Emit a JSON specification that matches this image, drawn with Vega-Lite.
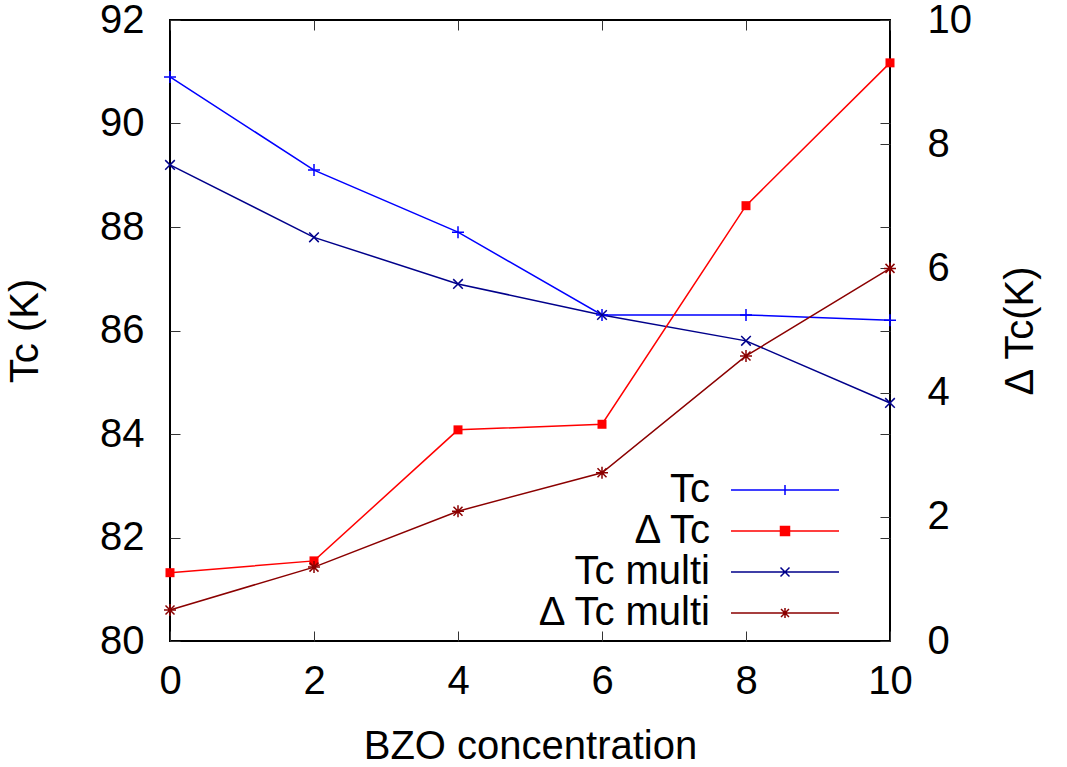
{
  "$schema": "https://vega.github.io/schema/vega-lite/v6.json",
  "width": 720,
  "height": 621,
  "autosize": {"type": "none"},
  "padding": {"left": 170, "top": 20, "right": 177, "bottom": 126},
  "background": "white",
  "config": {
    "font": "Liberation Sans",
    "view": {"stroke": "#000", "strokeWidth": 2},
    "axis": {
      "grid": false, "domain": false, "tickSize": -10, "tickColor": "#333", "tickWidth": 1,
      "labelFontSize": 40, "titleFontSize": 40, "labelFont": "Liberation Sans", "titleFont": "Liberation Sans",
      "labelColor": "#000", "titleColor": "#000", "titleFontWeight": "normal",
      "labelFlush": false, "labelOverlap": false
    }
  },
  "data": {"values": [
    {"x": 0, "series": "Tc", "value": 90.9},
    {"x": 2, "series": "Tc", "value": 89.1},
    {"x": 4, "series": "Tc", "value": 87.9},
    {"x": 6, "series": "Tc", "value": 86.3},
    {"x": 8, "series": "Tc", "value": 86.3},
    {"x": 10, "series": "Tc", "value": 86.2},
    {"x": 0, "series": "Δ Tc", "value": 1.1},
    {"x": 2, "series": "Δ Tc", "value": 1.29},
    {"x": 4, "series": "Δ Tc", "value": 3.4},
    {"x": 6, "series": "Δ Tc", "value": 3.49},
    {"x": 8, "series": "Δ Tc", "value": 7.01},
    {"x": 10, "series": "Δ Tc", "value": 9.31},
    {"x": 0, "series": "Tc multi", "value": 89.2},
    {"x": 2, "series": "Tc multi", "value": 87.8},
    {"x": 4, "series": "Tc multi", "value": 86.9},
    {"x": 6, "series": "Tc multi", "value": 86.3},
    {"x": 8, "series": "Tc multi", "value": 85.8},
    {"x": 10, "series": "Tc multi", "value": 84.6},
    {"x": 0, "series": "Δ Tc multi", "value": 0.5},
    {"x": 2, "series": "Δ Tc multi", "value": 1.19},
    {"x": 4, "series": "Δ Tc multi", "value": 2.09},
    {"x": 6, "series": "Δ Tc multi", "value": 2.71},
    {"x": 8, "series": "Δ Tc multi", "value": 4.59},
    {"x": 10, "series": "Δ Tc multi", "value": 6.0}
  ]},
  "layer": [
    {
      "transform": [{"filter": "datum.series === 'Tc' || datum.series === 'Tc multi'"}],
      "encoding": {
        "x": {"field": "x", "type": "quantitative", "scale": {"domain": [0, 10], "nice": false, "zero": false},
              "axis": {"values": [0, 2, 4, 6, 8, 10], "title": "BZO concentration", "labelPadding": 30, "titlePadding": 25}}
      },
      "layer": [
        {
          "mark": {"type": "line", "strokeWidth": 1.5},
          "encoding": {
            "y": {"field": "value", "type": "quantitative", "scale": {"domain": [80, 92], "nice": false, "zero": false},
                  "axis": {"orient": "left", "values": [80, 82, 84, 86, 88, 90, 92], "title": "Tc (K)", "labelPadding": 36, "titlePadding": 54}},
            "color": {"field": "series", "type": "nominal",
              "scale": {"domain": ["Tc", "Δ Tc", "Tc multi", "Δ Tc multi"], "range": ["#0000ff", "#ff0000", "#00008b", "#8b0000"]},
              "legend": {
                "orient": "none", "legendX": 595, "legendY": 450, "title": null,
                "labelFontSize": 40, "labelFont": "Liberation Sans", "labelColor": "#000",
                "labelAlign": "right", "labelOffset": -95, "labelLimit": 500,
                "symbolSize": 100, "symbolStrokeWidth": 1.5, "rowPadding": 1, "padding": 0,
                "encode": {"symbols": {"update": {
                  "shape": {"signal": "datum.value === 'Tc' ? 'M-10.8,0L10.8,0M0,-1L0,1' : datum.value === 'Δ Tc' ? 'M-10.8,0L10.8,0M-0.9,-0.9L0.9,-0.9L0.9,0.9L-0.9,0.9Z' : datum.value === 'Tc multi' ? 'M-10.8,0L10.8,0M-0.9,-0.9L0.9,0.9M-0.9,0.9L0.9,-0.9' : 'M-10.8,0L10.8,0M-1,0L1,0M0,-1L0,1M-0.8,-0.8L0.8,0.8M-0.8,0.8L0.8,-0.8'"},
                  "fill": {"signal": "datum.value === 'Δ Tc' ? '#ff0000' : 'transparent'"},
                  "strokeWidth": {"value": 1.5}
                }}}
              }}
          }
        },
        {
          "transform": [{"filter": "datum.series === 'Tc'"}],
          "mark": {"type": "point", "strokeWidth": 1.5, "size": 144, "opacity": 1, "filled": false, "color": "#0000ff", "shape": "M-1,0L1,0M0,-1L0,1"},
          "encoding": {
            "y": {"field": "value", "type": "quantitative", "scale": {"domain": [80, 92], "nice": false, "zero": false},
                  "axis": {"orient": "right", "values": [80, 82, 84, 86, 88, 90, 92], "labels": false, "title": null}}
          }
        },
        {
          "transform": [{"filter": "datum.series === 'Tc multi'"}],
          "mark": {"type": "point", "strokeWidth": 1.5, "size": 144, "opacity": 1, "filled": false, "color": "#00008b", "shape": "M-0.8,-0.8L0.8,0.8M-0.8,0.8L0.8,-0.8"},
          "encoding": {
            "y": {"field": "value", "type": "quantitative", "scale": {"domain": [80, 92], "nice": false, "zero": false}, "axis": null}
          }
        }
      ],
      "resolve": {"axis": {"y": "independent"}}
    },
    {
      "transform": [{"filter": "datum.series === 'Δ Tc' || datum.series === 'Δ Tc multi'"}],
      "encoding": {
        "x": {"field": "x", "type": "quantitative", "scale": {"domain": [0, 10], "nice": false, "zero": false}, "axis": null},
        "y": {"field": "value", "type": "quantitative", "scale": {"domain": [0, 10], "nice": false, "zero": false},
              "axis": {"orient": "right", "values": [0, 2, 4, 6, 8, 10], "title": "Δ Tc(K)", "titleAngle": 270, "labelPadding": 47, "titlePadding": 69}}
      },
      "layer": [
        {
          "mark": {"type": "line", "strokeWidth": 1.5},
          "encoding": {"color": {"field": "series", "type": "nominal", "legend": null}}
        },
        {
          "transform": [{"filter": "datum.series === 'Δ Tc'"}],
          "mark": {"type": "point", "strokeWidth": 1, "size": 144, "opacity": 1, "filled": true, "color": "#ff0000", "shape": "M-0.75,-0.75L0.75,-0.75L0.75,0.75L-0.75,0.75Z"}
        },
        {
          "transform": [{"filter": "datum.series === 'Δ Tc multi'"}],
          "mark": {"type": "point", "strokeWidth": 1.5, "size": 144, "opacity": 1, "filled": false, "color": "#8b0000", "shape": "M-1,0L1,0M0,-1L0,1M-0.75,-0.75L0.75,0.75M-0.75,0.75L0.75,-0.75"}
        }
      ]
    },
    {
      "transform": [{"filter": "datum.series === 'Tc'"}],
      "mark": {"type": "point", "opacity": 0},
      "encoding": {
        "x": {"field": "x", "type": "quantitative", "scale": {"domain": [0, 10], "nice": false, "zero": false},
              "axis": {"orient": "top", "values": [0, 2, 4, 6, 8, 10], "labels": false, "title": null}}
      }
    }
  ],
  "resolve": {"scale": {"y": "independent"}, "axis": {"x": "independent"}}
}
